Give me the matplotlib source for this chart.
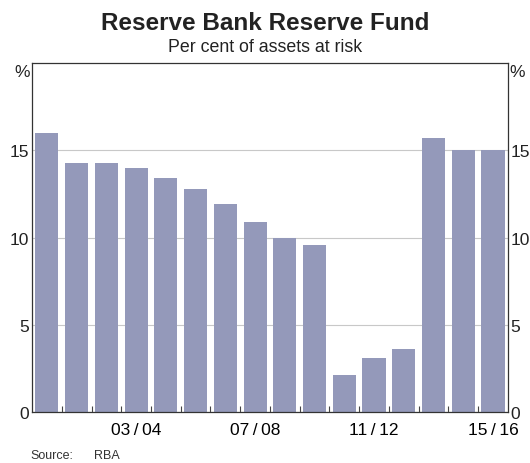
import numpy as np
import matplotlib.pyplot as plt

plt.rcParams['font.family'] = ['Liberation Sans', 'DejaVu Sans']

# Reserve Fund, per cent of assets at risk, 2000/01 to 2015/16
years = ['00/01', '01/02', '02/03', '03/04', '04/05', '05/06', '06/07', '07/08',
         '08/09', '09/10', '10/11', '11/12', '12/13', '13/14', '14/15', '15/16']
values = [16.0, 14.3, 14.3, 14.0, 13.4, 12.8, 11.9, 10.9,
          10.0, 9.6, 2.1, 3.1, 3.6, 15.7, 15.0, 15.0]
shown_labels = ['03/04', '07/08', '11/12', '15/16']

fig = plt.figure(figsize=(5.3, 4.64), dpi=100)
ax = fig.add_axes([0.0604, 0.1099, 0.898, 0.752])

x = np.arange(len(values))
ax.bar(x, values, width=0.78, color='#9499ba', zorder=3)

ax.set_xlim(-0.5, len(values) - 0.5)
ax.set_ylim(0, 20)
ax.set_yticks([0, 5, 10, 15])
ax.yaxis.grid(True, color='#c8c8c8', linewidth=0.8, zorder=0)
ax.tick_params(axis='y', length=0, labelsize=12.5, pad=2, labelright=True, right=False)
for lab in ax.get_yticklabels():
    lab.set_color('#222222')

# tick marks between bars, labels under selected bars
ax.set_xticks(np.arange(len(values) - 1) + 0.5, minor=True)
ax.set_xticks([years.index(s) for s in shown_labels])
ax.set_xticklabels([s.replace('/', '\u2009/\u2009') for s in shown_labels])
ax.tick_params(axis='x', which='major', length=0, labelsize=12.5, pad=7)
ax.tick_params(axis='x', which='minor', direction='in', length=4, color='#444444', width=0.8)

for sp in ax.spines.values():
    sp.set_color('#333333')
    sp.set_linewidth(0.9)
    sp.set_zorder(4)

fig.text(0.028, 0.843, '%', fontsize=12.5, ha='left', va='center', color='#222222')
fig.text(0.962, 0.843, '%', fontsize=12.5, ha='left', va='center', color='#222222')

fig.text(0.5, 0.950, 'Reserve Bank Reserve Fund', fontsize=17.5, fontweight='bold',
         ha='center', va='center', color='#222222')
fig.text(0.5, 0.897, 'Per cent of assets at risk', fontsize=12.8,
         ha='center', va='center', color='#222222')
fig.text(0.057, 0.018, 'Source:', fontsize=9, ha='left', va='center', color='#333333')
fig.text(0.178, 0.018, 'RBA', fontsize=9, ha='left', va='center', color='#333333')

fig.savefig('out.png', dpi=100)
